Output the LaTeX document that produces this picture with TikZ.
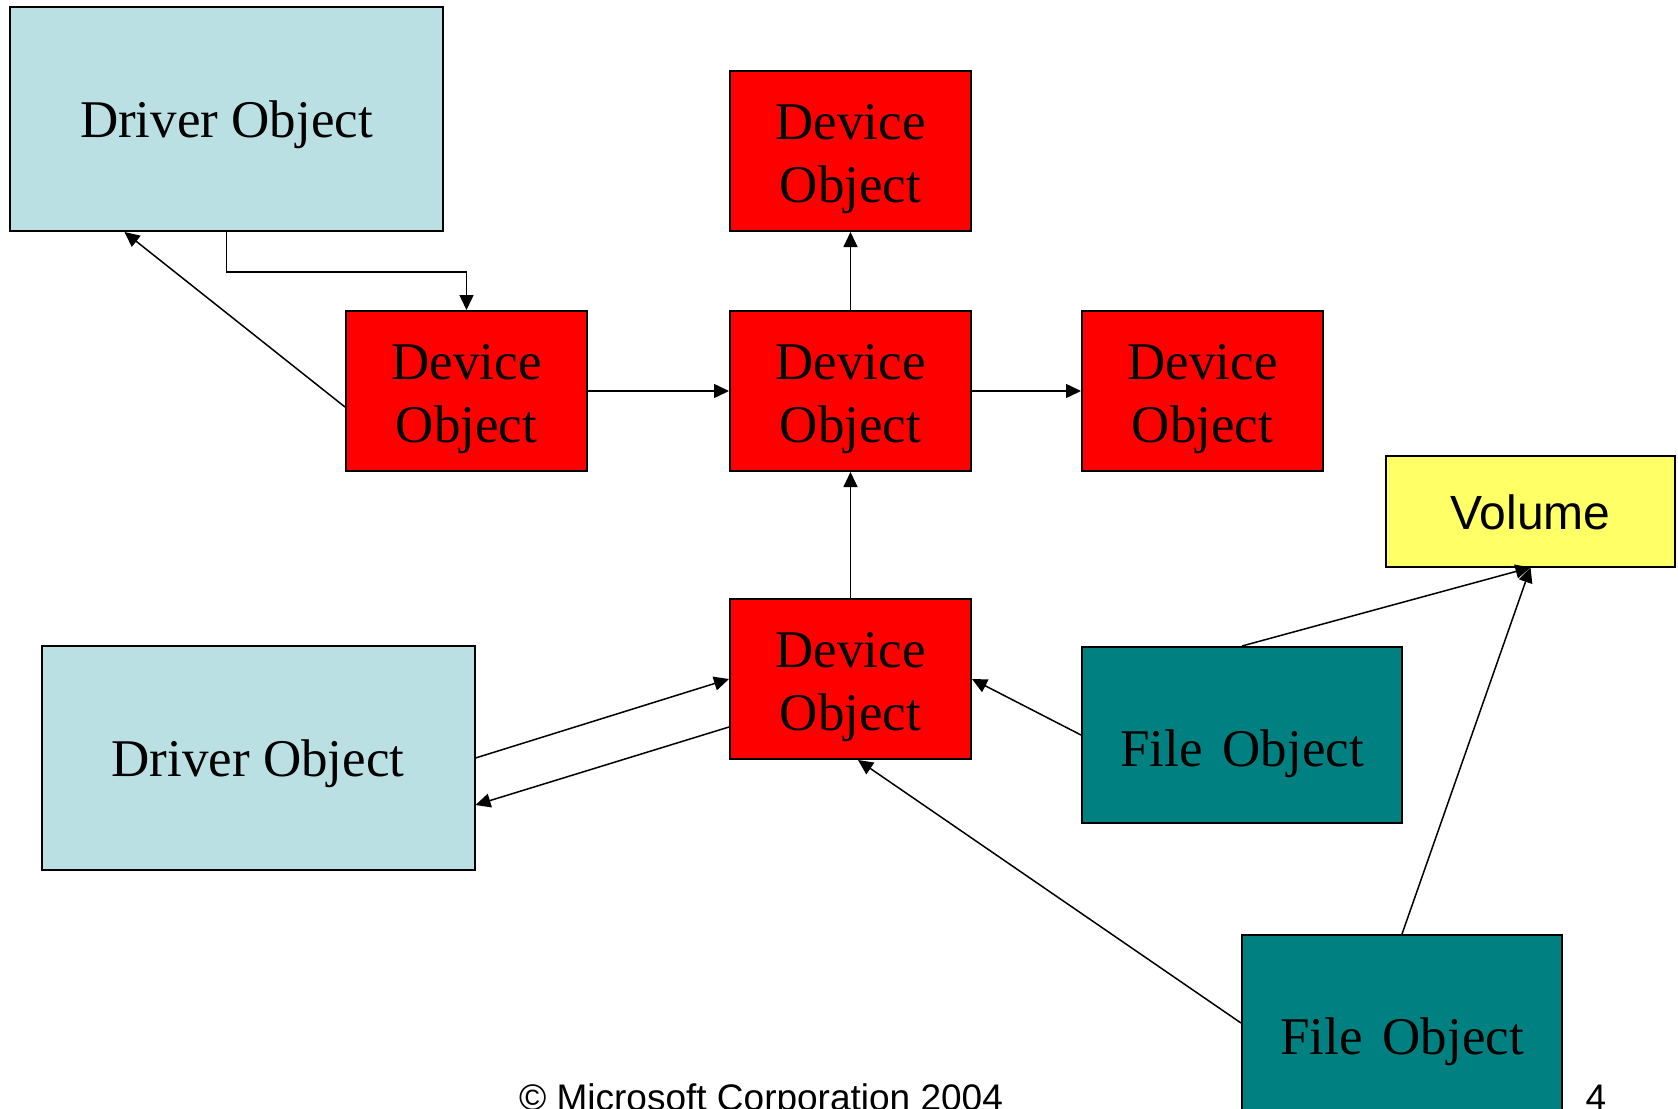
\documentclass[tikz,border=0pt]{standalone}
\usepackage{fontspec}
\setmainfont{Liberation Serif}
\newfontfamily\arialfont{Liberation Sans}
\usetikzlibrary{arrows.meta}
\definecolor{drvblue}{HTML}{BAE0E3}
\definecolor{devred}{HTML}{FF0000}
\definecolor{fileteal}{HTML}{008080}
\definecolor{volyellow}{HTML}{FFFF66}
% two-line label of a device box; the strut lowers the block a little
\newcommand\devlabel{\rule{0pt}{51pt}Device\\Object}

\begin{document}
\begin{tikzpicture}[x=1pt,y=-1pt,
  box/.style={draw=black, line width=2pt, inner sep=0pt, anchor=center},
  drvbox/.style={box, fill=drvblue, minimum width=433pt, minimum height=224pt,
    font=\fontsize{53}{64}\selectfont, text height=37pt, text depth=0pt},
  devbox/.style={box, fill=devred, minimum width=241pt, minimum height=160pt,
    align=center, font=\fontsize{53}{63.6}\selectfont},
  filebox/.style={box, fill=fileteal, minimum width=320pt, minimum height=176pt,
    font=\fontsize{53}{64}\selectfont, text height=62pt, text depth=0pt},
  volbox/.style={box, fill=volyellow, minimum width=289pt, minimum height=111pt,
    font=\arialfont\fontsize{48}{58}\selectfont, text height=37pt, text depth=0pt},
  link/.style={line width=1.5pt, -{Triangle[length=15pt,width=14pt]}},
  foot/.style={font=\arialfont\fontsize{37}{44}\selectfont, inner sep=0pt, anchor=base}
]
\useasboundingbox (0,0) rectangle (1678,1108);
\fill[white] (0,0) rectangle (1678,1108);
\clip (0,0) rectangle (1678,1108);

% boxes
\node[drvbox] (drvA) at (226.5,119) {Driver Object};
\node[devbox] (devT) at (850.5,151) {\devlabel};
\node[devbox] (devL) at (466.5,391) {\devlabel};
\node[devbox] (devC) at (850.5,391) {\devlabel};
\node[devbox] (devR) at (1202.5,391) {\devlabel};
\node[volbox] (vol) at (1530.5,511) {Volume};
\node[devbox] (devB) at (850.5,679) {\devlabel};
\node[drvbox] (drvB) at (258,758) {Driver Object};
\node[filebox] (fileA) at (1242,735) {File\hspace{0.38em}Object};
\node[filebox] (fileB) at (1402,1023) {File\hspace{0.38em}Object};

% connectors
\draw[link] (drvA.south) -- ++(0,40) -| (devL.north);
\draw[link] ([yshift=-16pt]devL.west) -- ([xshift=-102pt]drvA.south);
\draw[link] (devL.east) -- (devC.west);
\draw[link] (devC.east) -- (devR.west);
\draw[link] (devC.north) -- (devT.south);
\draw[link] (devB.north) -- (devC.south);
\draw[link] (drvB.east) -- (devB.west);
\draw[link] ([yshift=-48pt]devB.west) -- ([yshift=-47pt]drvB.east);
\draw[link] (fileA.west) -- (devB.east);
\draw[link] (fileB.west) -- ([xshift=7.5pt]devB.south);
\draw[link] (fileA.north) -- (vol.south);
\draw[link] (fileB.north) -- (vol.south);

% footer, running off the lower edge of the page
\node[foot] (copyright) at (761,1110) {© Microsoft Corporation 2004};
\node[foot] (pageno) at (1596,1110) {4};
\end{tikzpicture}
\end{document}
